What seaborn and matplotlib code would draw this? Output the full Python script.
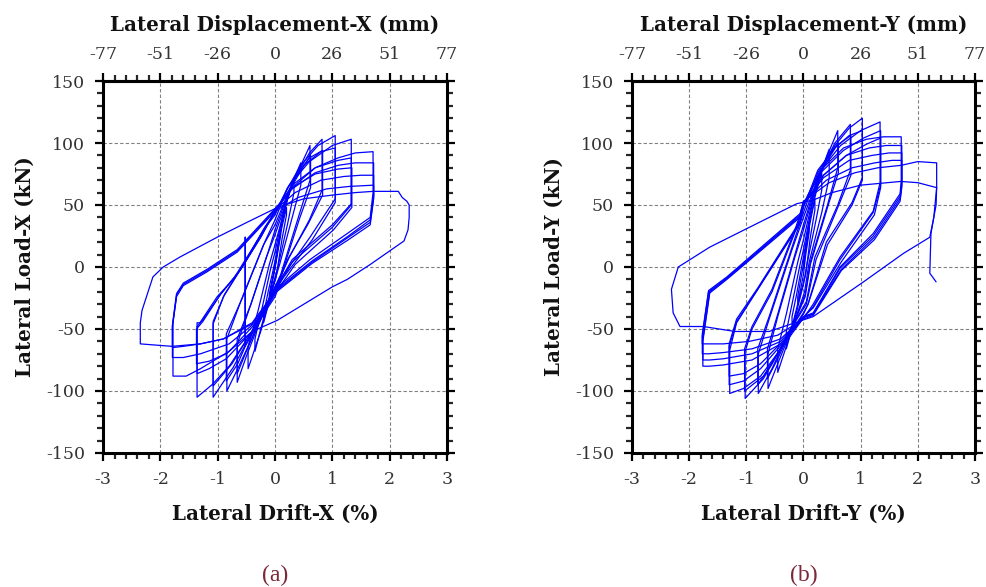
import numpy as np
import pandas as pd
import matplotlib
matplotlib.use("Agg")
import matplotlib.pyplot as plt
from matplotlib.ticker import AutoMinorLocator, FixedLocator
import seaborn as sns

# ── hysteresis loops: one inner list per load cycle ─────────────────────────
# panel (a): X direction, drift in %, load in kN
x_drift_loops = [
    [0.00, 0.05, 0.10, 0.10, 0.04, -0.02, -0.06, -0.10, -0.10, -0.04, 0.00],
    [0.00, 0.10, 0.20, 0.20, 0.12, 0.02, -0.08, -0.20, -0.20, -0.12, -0.04, 0.00],
    [0.00, 0.12, 0.22, 0.33, 0.33, 0.22, 0.05, -0.12, -0.25, -0.35, -0.35, -0.22, -0.08, 0.00],
    [0.00, 0.15, 0.30, 0.45, 0.45, 0.30, 0.08, -0.05, -0.25, -0.47, -0.47, -0.30, -0.10, 0.00],
    [0.00, 0.26, 0.45, 0.61, 0.61, 0.42, 0.10, 0.00, -0.30, -0.50, -0.66, -0.66, -0.45, -0.15, 0.00],
    [0.00, 0.28, 0.48, 0.62, 0.62, 0.42, 0.10, 0.00, -0.30, -0.50, -0.66, -0.66, -0.42, -0.12, 0.00],
    [0.00, 0.30, 0.60, 0.82, 0.82, 0.60, 0.25, 0.05, 0.00, -0.35, -0.65, -0.84, -0.84, -0.60, -0.20, 0.00],
    [0.00, 0.32, 0.60, 0.83, 0.83, 0.58, 0.22, 0.05, 0.00, -0.35, -0.52, -0.52, -0.52, -0.65, -0.85, -0.85, -0.58, -0.18, 0.00],
    [0.00, 0.20, 0.45, 0.75, 1.05, 1.05, 0.61, 0.09, 0.00, -0.38, -0.73, -1.08, -1.08, -0.90, -0.55, -0.20, 0.00],
    [0.00, 0.22, 0.50, 0.80, 1.05, 1.05, 0.65, 0.12, 0.00, -0.38, -0.75, -1.08, -1.08, -0.88, -0.52, -0.18, 0.00],
    [0.00, 0.25, 0.60, 1.00, 1.33, 1.33, 1.00, 0.30, 0.05, 0.00, -0.40, -0.80, -1.10, -1.36, -1.36, -1.31, -1.01, -0.73, -0.30, 0.00],
    [0.00, 0.30, 0.70, 1.10, 1.33, 1.33, 1.00, 0.30, 0.05, 0.00, -0.40, -0.85, -1.15, -1.36, -1.36, -1.25, -0.95, -0.60, -0.25, 0.00],
    [0.00, 0.30, 0.70, 1.10, 1.34, 1.34, 1.02, 0.35, 0.05, 0.00, -0.40, -0.85, -1.15, -1.37, -1.37, -1.26, -0.95, -0.60, -0.25, 0.00],
    [0.00, 0.30, 0.70, 1.10, 1.40, 1.71, 1.71, 1.66, 1.26, 0.61, 0.00, -0.35, -0.80, -1.30, -1.55, -1.78, -1.78, -1.71, -1.60, -1.19, -0.66, 0.00],
    [0.00, 0.30, 0.70, 1.10, 1.40, 1.72, 1.72, 1.66, 1.28, 0.65, 0.00, -0.35, -0.80, -1.30, -1.60, -1.79, -1.79, -1.72, -1.60, -1.19, -0.66, 0.00],
    [0.00, 0.35, 0.80, 1.20, 1.50, 1.72, 1.72, 1.66, 1.28, 0.65, 0.00, -0.40, -0.90, -1.30, -1.60, -1.79, -1.79, -1.72, -1.60, -1.19, -0.66, 0.00],
    [0.00, 0.40, 0.90, 1.30, 1.72, 1.72, 1.66, 1.28, 0.65, 0.00, -0.40, -0.90, -1.30, -1.80, -2.35, -2.35, -2.32, -2.13, -1.95, -1.66, -1.01, -0.49, 0.04],
    [0.04, 0.50, 1.00, 1.40, 1.71, 2.15, 2.22, 2.30, 2.34, 2.34, 2.32, 2.25, 1.97, 1.66, 1.26, 1.00, 0.04, -0.40],
]
x_load_loops = [
    [0, 18, 30, 26, 10, -6, -15, -26, -22, -8, 0],
    [0, 28, 48, 42, 22, -8, -24, -45, -38, -20, -4, 5],
    [5, 35, 55, 70, 60, 35, 0, -28, -50, -68, -58, -32, -2, 12],
    [12, 45, 68, 84, 66, 40, 2, -18, -52, -82, -64, -36, 2, 18],
    [18, 62, 82, 98, 70, 42, -6, -16, -48, -72, -93, -62, -34, 8, 26],
    [26, 64, 80, 90, 64, 38, -8, -17, -46, -68, -86, -58, -30, 12, 30],
    [30, 68, 92, 103, 62, 38, 8, -12, -18, -52, -82, -100, -58, -28, 18, 34],
    [34, 70, 88, 94, 58, 35, 6, -14, -20, -50, -64, 24, -64, -78, -92, -54, -26, 20, 38],
    [38, 62, 82, 98, 106, 55, 24, -10, -16, -51, -81, -105, -46, -24, 2, 30, 42],
    [42, 64, 82, 93, 96, 52, 22, -10, -18, -50, -78, -96, -44, -22, 4, 32, 44],
    [44, 66, 85, 98, 103, 51, 34, 6, -14, -20, -52, -80, -95, -105, -45, -45, -24, -10, 22, 45],
    [45, 66, 80, 86, 88, 50, 32, 4, -16, -22, -52, -74, -82, -86, -48, -42, -22, -2, 24, 45],
    [45, 64, 75, 79, 80, 48, 30, 2, -18, -24, -52, -70, -76, -78, -50, -44, -22, -2, 24, 45],
    [45, 64, 80, 88, 92, 93, 60, 40, 27, 6, -18, -46, -68, -82, -88, -88, -45, -21, -13, -2, 14, 47],
    [47, 63, 76, 82, 84, 84, 58, 38, 25, 5, -19, -45, -62, -70, -73, -73, -47, -22, -14, -3, 13, 46],
    [46, 60, 70, 73, 74, 74, 56, 36, 24, 4, -20, -45, -58, -62, -64, -65, -48, -24, -15, -4, 12, 45],
    [45, 56, 63, 65, 66, 55, 34, 22, 3, -21, -46, -58, -62, -64, -62, -45, -35, -8, 0, 8, 24, 36, 48],
    [48, 55, 58, 60, 61, 61, 56, 53, 50, 40, 30, 21, 12, 2, -10, -16, -43, -52],
]

# panel (b): Y direction
y_drift_loops = [
    [0.00, 0.05, 0.10, 0.10, 0.04, 0.00, -0.05, -0.10, -0.10, -0.04, 0.00],
    [0.00, 0.10, 0.20, 0.20, 0.12, 0.04, -0.08, -0.20, -0.20, -0.12, -0.04, 0.00],
    [0.00, 0.12, 0.22, 0.32, 0.32, 0.22, 0.06, 0.00, -0.12, -0.30, -0.30, -0.20, -0.06, 0.00],
    [0.00, 0.15, 0.30, 0.45, 0.45, 0.32, 0.10, 0.02, -0.20, -0.45, -0.45, -0.30, -0.10, 0.00],
    [0.00, 0.20, 0.40, 0.60, 0.60, 0.42, 0.12, 0.03, -0.25, -0.45, -0.62, -0.62, -0.45, -0.15, 0.00],
    [0.00, 0.22, 0.42, 0.61, 0.61, 0.42, 0.12, 0.03, -0.25, -0.45, -0.63, -0.63, -0.45, -0.15, 0.00],
    [0.00, 0.25, 0.55, 0.82, 0.82, 0.60, 0.20, 0.05, -0.25, -0.55, -0.79, -0.79, -0.60, -0.20, 0.00],
    [0.00, 0.28, 0.58, 0.83, 0.83, 0.60, 0.22, 0.05, -0.25, -0.55, -0.80, -0.80, -0.60, -0.20, 0.00],
    [0.00, 0.25, 0.55, 0.80, 1.03, 1.03, 0.85, 0.40, 0.08, 0.00, -0.30, -0.70, -1.02, -1.02, -0.90, -0.55, -0.15, 0.00],
    [0.00, 0.25, 0.55, 0.80, 1.03, 1.03, 0.85, 0.42, 0.08, 0.00, -0.30, -0.70, -1.03, -1.03, -0.90, -0.55, -0.15, 0.00],
    [0.00, 0.30, 0.65, 1.00, 1.34, 1.34, 1.22, 0.64, 0.17, 0.05, -0.30, -0.75, -1.05, -1.29, -1.29, -1.17, -0.80, -0.06, 0.00],
    [0.00, 0.30, 0.70, 1.05, 1.35, 1.35, 1.22, 0.64, 0.17, 0.05, -0.30, -0.75, -1.05, -1.30, -1.30, -1.17, -0.80, -0.06, 0.00],
    [0.00, 0.35, 0.75, 1.10, 1.35, 1.35, 1.24, 0.66, 0.17, 0.05, -0.30, -0.75, -1.05, -1.30, -1.30, -1.17, -0.80, -0.06, 0.00],
    [0.00, 0.30, 0.70, 1.10, 1.40, 1.71, 1.71, 1.69, 1.22, 0.64, 0.17, 0.00, -0.40, -0.90, -1.40, -1.64, -1.76, -1.76, -1.64, -1.34, -0.06, 0.00],
    [0.00, 0.35, 0.75, 1.15, 1.45, 1.72, 1.72, 1.69, 1.22, 0.64, 0.17, 0.00, -0.40, -0.90, -1.40, -1.64, -1.76, -1.76, -1.64, -1.34, -0.06, 0.00],
    [0.00, 0.35, 0.80, 1.20, 1.50, 1.72, 1.72, 1.69, 1.24, 0.66, 0.17, 0.00, -0.40, -0.90, -1.40, -1.66, -1.77, -1.77, -1.66, -1.34, -0.06, 0.00],
    [0.00, 0.40, 0.85, 1.25, 1.55, 1.72, 1.72, 1.69, 1.24, 0.66, 0.17, 0.00, -0.45, -0.95, -1.40, -1.66, -1.77, -1.77, -1.66, -1.34, -0.06, 0.00],
    [0.00, 0.45, 0.90, 1.30, 1.71, 2.00, 2.33, 2.33, 2.28, 2.21, 1.75, 1.05, 0.17, -0.60, -1.20, -1.75, -2.16, -2.28, -2.31, -2.19, -1.64, -0.99, -0.12, 0.17],
    [0.17, 0.50, 1.00, 1.70, 2.00, 2.33, 2.32, 2.28, 2.23, 2.21, 2.32],
]
y_load_loops = [
    [0, 20, 34, 28, 10, -6, -18, -30, -24, -8, 2],
    [2, 32, 55, 46, 24, -6, -26, -48, -40, -22, -2, 8],
    [8, 40, 60, 76, 62, 38, 2, -14, -36, -66, -52, -30, 2, 14],
    [14, 50, 76, 95, 72, 44, 4, -20, -50, -85, -66, -38, 4, 22],
    [22, 62, 88, 110, 80, 50, 4, -22, -55, -78, -98, -70, -40, 8, 30],
    [30, 66, 88, 100, 76, 48, 2, -24, -54, -74, -90, -66, -38, 10, 34],
    [34, 72, 100, 115, 78, 50, 8, -28, -52, -82, -102, -70, -42, 14, 40],
    [40, 75, 98, 106, 74, 48, 6, -30, -52, -78, -95, -66, -40, 16, 44],
    [44, 76, 98, 112, 120, 72, 52, 20, -30, -38, -58, -90, -106, -68, -50, -20, 28, 48],
    [48, 78, 96, 106, 110, 70, 50, 18, -30, -37, -58, -88, -100, -66, -48, -18, 30, 50],
    [50, 78, 98, 110, 117, 68, 45, 8, -30, -38, -60, -88, -98, -102, -67, -45, -18, 35, 50],
    [50, 76, 94, 104, 110, 66, 44, 6, -32, -38, -58, -82, -92, -95, -64, -44, -18, 36, 50],
    [50, 74, 90, 99, 104, 64, 42, 4, -33, -38, -57, -78, -86, -88, -62, -42, -17, 37, 51],
    [51, 78, 96, 103, 105, 105, 70, 59, 27, 0, -37, -40, -62, -75, -79, -80, -80, -60, -21, -10, 40, 50],
    [50, 74, 90, 96, 98, 98, 68, 57, 25, -1, -38, -40, -60, -70, -74, -75, -75, -58, -20, -9, 41, 51],
    [51, 72, 86, 90, 92, 92, 66, 55, 24, -2, -38, -41, -58, -66, -69, -70, -70, -56, -20, -9, 42, 52],
    [52, 70, 80, 84, 86, 86, 64, 53, 22, -3, -39, -42, -55, -60, -62, -62, -62, -54, -19, -8, 43, 53],
    [53, 68, 76, 80, 82, 85, 84, 64, 40, 24, 11, -12, -40, -52, -52, -48, -48, -37, -18, 0, 16, 31, 51, 54],
    [54, 60, 66, 69, 68, 64, 50, 40, 27, -5, -12],
]

drift_ticks = [-3, -2, -1, 0, 1, 2, 3]
load_ticks = [-150, -100, -50, 0, 50, 100, 150]
storey_height_mm = 2560  # 1 % drift = 25.6 mm

panels = [
    ("a", "X", x_drift_loops, x_load_loops),
    ("b", "Y", y_drift_loops, y_load_loops),
]

# ── style ────────────────────────────────────────────────────────────────────
sns.set_style("white")
plt.rcParams["font.family"] = ["DejaVu Serif"]
plt.rcParams["axes.unicode_minus"] = False

fig = plt.figure(figsize=(9.87, 5.87), dpi=100, facecolor="white")
axes_pos = [[0.1044, 0.2283, 0.3485, 0.6337],
            [0.6403, 0.2283, 0.3475, 0.6337]]

tick_kw = dict(direction="out", colors="black", labelcolor="#333333",
               labelsize=12.5, width=1.6)
label_kw = dict(fontsize=14.3, fontweight="bold", color="#111111")

for (tag, axis_name, drift_loops, load_loops), pos in zip(panels, axes_pos):
    rows = []
    for i, (dd, ff) in enumerate(zip(drift_loops, load_loops)):
        for d, f in zip(dd, ff):
            rows.append((i, d, f))
    df = pd.DataFrame(rows, columns=["cycle", "drift", "load"])

    ax = fig.add_axes(pos)
    sns.lineplot(data=df, x="drift", y="load", units="cycle", estimator=None,
                 sort=False, color="#0000FF", linewidth=0.9, ax=ax)

    ax.set_xlim(-3, 3)
    ax.set_ylim(-150, 150)
    ax.set_xticks(drift_ticks)
    ax.set_xticklabels([str(t) for t in drift_ticks])
    ax.set_yticks(load_ticks)
    ax.set_yticklabels([str(t) for t in load_ticks])
    ax.xaxis.set_minor_locator(AutoMinorLocator(5))
    ax.yaxis.set_minor_locator(AutoMinorLocator(5))
    ax.tick_params(which="major", length=6, pad=7, **tick_kw)
    ax.tick_params(which="minor", length=4, width=1.6, direction="out")
    ax.tick_params(which="both", left=True, right=True, bottom=True, top=False,
                   labelright=False)
    ax.grid(True, which="major", color="#808080", linestyle=(0, (3, 2)), linewidth=0.8)
    for sp in ax.spines.values():
        sp.set_visible(True)
        sp.set_linewidth(2.2)
        sp.set_color("black")

    ax.set_xlabel(f"Lateral Drift-{axis_name} (%)", labelpad=11, **label_kw)
    ax.set_ylabel(f"Lateral Load-{axis_name} (kN)", labelpad=8, **label_kw)

    # top axis: displacement in mm
    top = ax.secondary_xaxis("top", functions=(lambda d: d * storey_height_mm / 100,
                                               lambda m: m * 100 / storey_height_mm))
    mm_pos = [t * storey_height_mm / 100 for t in drift_ticks]
    top.xaxis.set_major_locator(FixedLocator(mm_pos))
    top.set_xticklabels([str(int(round(m))) for m in mm_pos])
    top.xaxis.set_minor_locator(FixedLocator(
        [m + k * storey_height_mm / 500 for m in mm_pos[:-1] for k in range(1, 5)]))
    top.tick_params(which="major", length=6, pad=7, **tick_kw)
    top.tick_params(which="minor", length=4, width=1.6, direction="out")
    top.spines["top"].set_linewidth(2.2)
    top.set_xlabel(f"Lateral Displacement-{axis_name} (mm)", labelpad=11, **label_kw)

    # caption below the panel
    cx = pos[0] + pos[2] / 2
    fig.text(cx, 1 - 575 / 587, f"({tag})", ha="center", va="center", fontsize=17,
             family="Liberation Serif", color="#7B2838")

fig.savefig("out.png", dpi=100, facecolor="white")
